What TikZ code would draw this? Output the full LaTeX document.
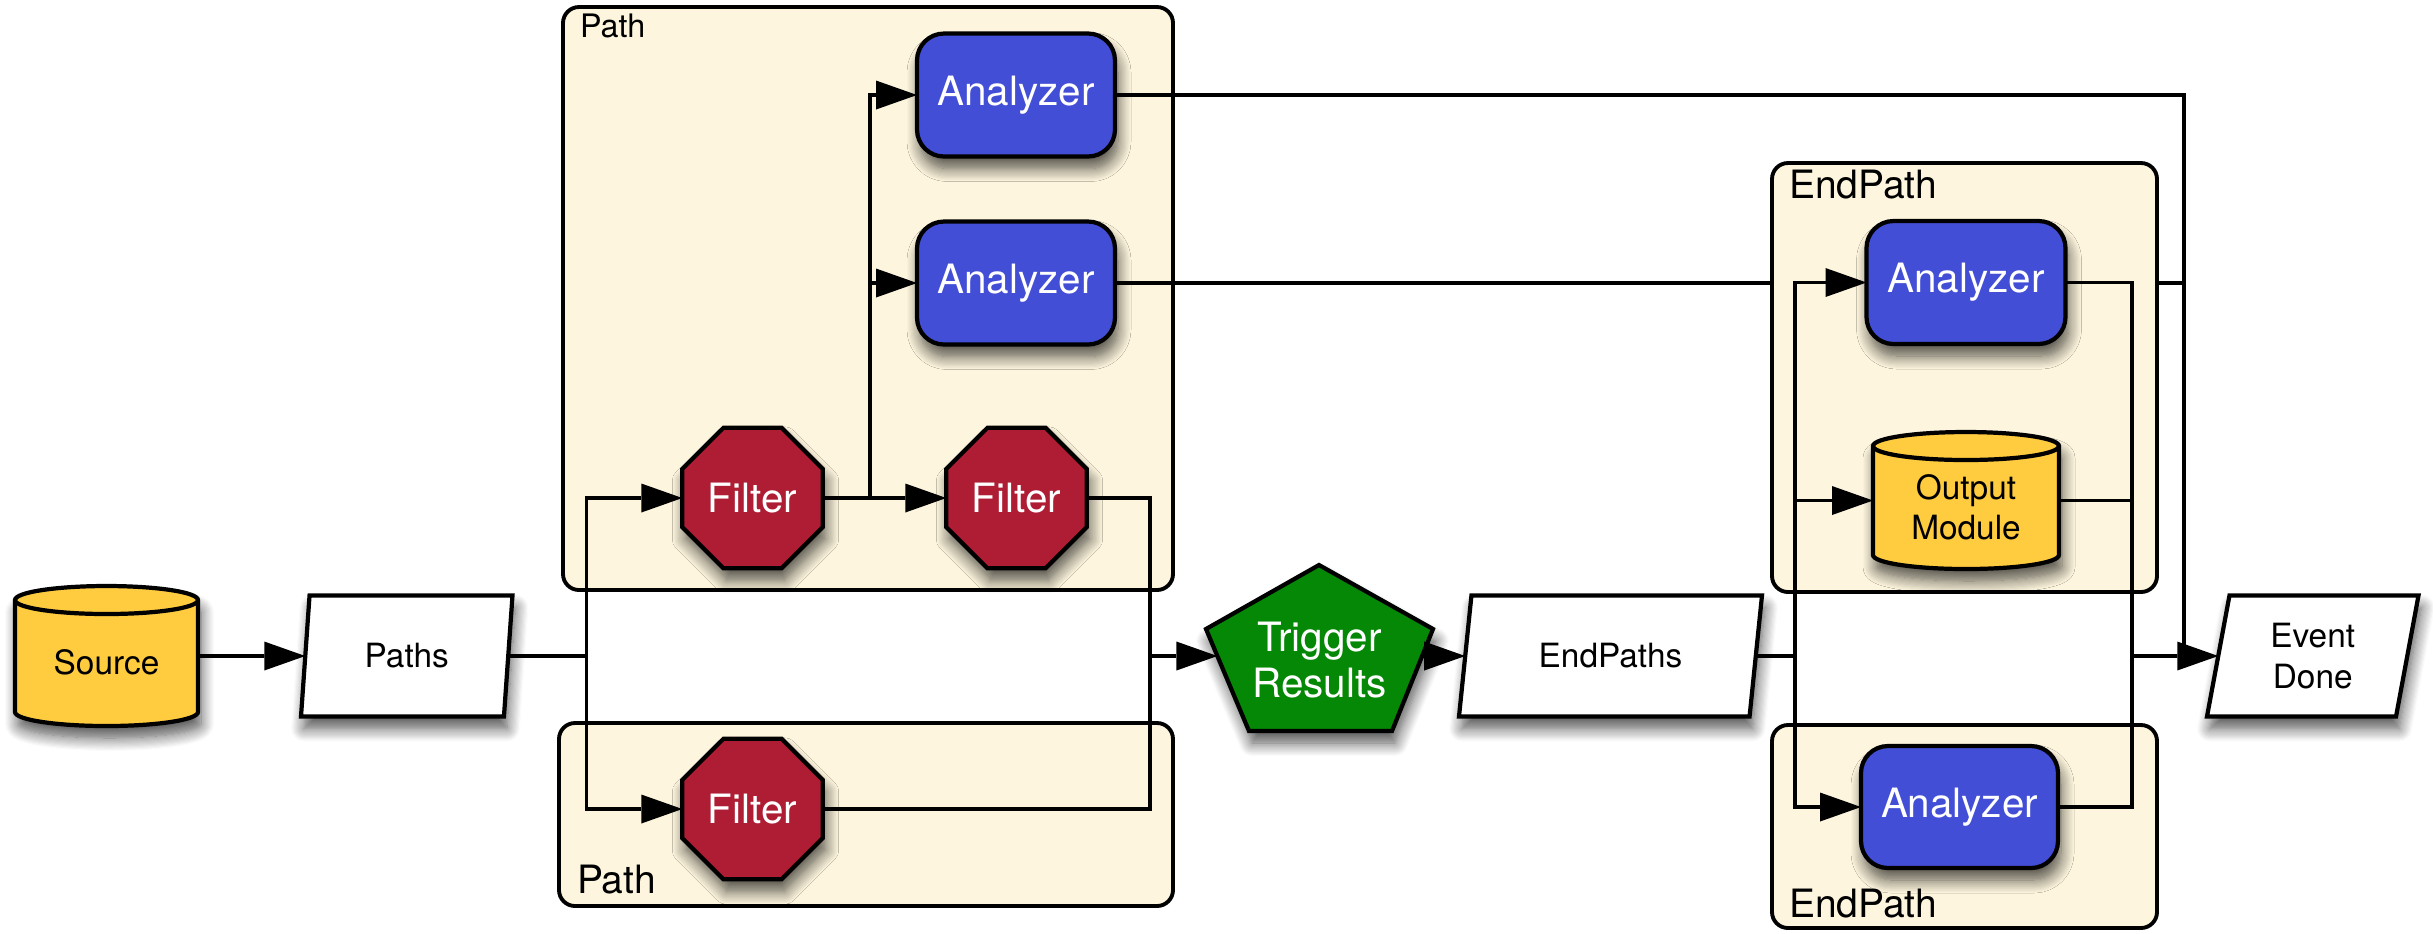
\documentclass[tikz,border=0pt]{standalone}
\usepackage{fontspec}
\setmainfont{TeX Gyre Heros}
\usetikzlibrary{shapes.geometric,arrows.meta,shadows.blur,calc}

\definecolor{boxcream}{RGB}{253,245,221}
\definecolor{anablue}{RGB}{67,78,214}
\definecolor{filtred}{RGB}{174,29,52}
\definecolor{trigreen}{RGB}{5,136,5}
\definecolor{dbyellow}{RGB}{255,204,64}

\newcommand\whitefont{\fontsize{11.5}{13.2}\selectfont}
\newcommand\blackfont{\fontsize{9.5}{11.5}\selectfont}

% yellow drum drawn around a borderless node: #1 node, #2 half height of the cap
\newcommand\cylinderof[2]{%
  \path[cylbody] let \p1=(#1.north west), \p2=(#1.south east) in
    (\x1,\y1-#2) -- (\x1,\y2+#2)
    arc[start angle=180, end angle=360, x radius={0.5*(\x2-\x1)}, y radius=#2]
    -- (\x2,\y1-#2)
    arc[start angle=0, end angle=180, x radius={0.5*(\x2-\x1)}, y radius=#2] -- cycle;
  \draw[cylrim] let \p1=(#1.north west), \p2=(#1.south east) in
    (\x1,\y1-#2)
    arc[start angle=180, end angle=360, x radius={0.5*(\x2-\x1)}, y radius=#2];
}

\begin{document}
\begin{tikzpicture}[x=0.1mm, y=-0.1mm,
  every node/.style={inner sep=0pt, outer sep=0pt},
  shadowed/.style={blur shadow={shadow xshift=0.3mm, shadow yshift=-1.2mm,
      shadow blur radius=1.3mm, shadow blur steps=12, shadow opacity=68}},
  groupframe/.style={draw, line width=1.1pt, fill=boxcream, rounded corners=1.6mm},
  boxlabel/.style={anchor=base west},
  analyzer/.style={rectangle, rounded corners=2.7mm, draw, line width=1.2pt,
      fill=anablue, text=white, font=\whitefont,
      minimum width=19.8mm, minimum height=12.3mm, shadowed},
  filter/.style={regular polygon, regular polygon sides=8, minimum size=15.2mm,
      draw, line width=1.2pt, fill=filtred, text=white, font=\whitefont, shadowed},
  slanted/.style={trapezium, trapezium stretches body, draw, line width=1.2pt,
      fill=white, font=\blackfont, align=center, minimum height=12.1mm, shadowed},
  cylbox/.style={rectangle},
  cyltext/.style={font=\blackfont, align=center},
  cylbody/.style={fill=dbyellow, draw, line width=1.2pt, shadowed},
  cylrim/.style={draw, line width=1.2pt},
  pentbody/.style={fill=trigreen, draw, line width=1.2pt, line join=miter, shadowed},
  conn/.style={draw=black, line width=1.1pt, opacity=1},
  arr/.style={conn, -{Triangle[length=4.1mm, width=2.9mm, fill=black, line width=0pt]}}]

\useasboundingbox (0,0) rectangle (2433,933);

% ---- Path frames
\draw[groupframe] (563,7) rectangle (1173,590);
\draw[groupframe] (559,723) rectangle (1173,906);
\node[boxlabel, font=\fontsize{9.2}{11}\selectfont] (lblA) at (580,37) {Path};
\node[boxlabel, font=\fontsize{11.1}{13}\selectfont] (lblB) at (577,893) {Path};

% ---- source side
\node[cylbox, minimum width=18.3mm, minimum height=14mm] (src) at (106.5,656) {};
\cylinderof{src}{1.4mm}
\node[cyltext] (srctext) at (106.5,662.5) {Source};
\node[slanted, trapezium left angle=71, trapezium right angle=109,
      minimum width=21.15mm] (paths) at (406.75,656) {Paths};

% ---- Path contents
\node[filter] (f1) at (752.5,498) {Filter};
\node[filter] (f2) at (1016.5,498) {Filter};
\node[filter] (f3) at (752.5,809) {Filter};
\node[analyzer] (a1) at (1016,95) {Analyzer};
\node[analyzer] (a2) at (1016,283) {Analyzer};

% ---- trigger results
\path[pentbody] (1319,565) -- (1433,629) -- (1392,731) -- (1249,731) -- (1206,629) -- cycle;
\node[font=\whitefont, text=white, align=center] (trig) at (1319.5,660) {Trigger\\Results};
\node[slanted, trapezium left angle=63.4, trapezium right angle=116.6,
      minimum width=30.3mm] (ep) at (1610.5,656) {EndPaths};

% ---- branch points
\coordinate (sp1) at (586.5,656);
\coordinate (j1) at (870,498);
\coordinate (sp2) at (1150,656);
\coordinate (trigW) at (1217.4,656);
\coordinate (trigE) at (1421.6,656);
\coordinate (sp3) at (1795,656);
\coordinate (sp4) at (2132,656);
\coordinate (j2) at (2184,656);

% analyzer outputs of the Path run behind the EndPath frame
\draw[conn] (a1) -| (j2);
\draw[conn] (a2) -| (j2);

% ---- EndPath frames
\draw[groupframe] (1772,163) rectangle (2157,592);
\draw[groupframe] (1772,725) rectangle (2157,928);
\node[boxlabel, font=\fontsize{11.1}{13}\selectfont] (lblC) at (1789,198) {EndPath};
\node[boxlabel, font=\fontsize{11.1}{13}\selectfont] (lblD) at (1789,917) {EndPath};

% ---- EndPath contents
\node[analyzer, minimum width=19.9mm] (a3) at (1966,282.5) {Analyzer};
\node[cylbox, minimum width=18.6mm, minimum height=13.7mm] (om) at (1966,500.5) {};
\cylinderof{om}{1.4mm}
\node[cyltext] (omtext) at (1966,507) {Output\\Module};
\node[analyzer, minimum width=19.7mm, minimum height=12.2mm] (a4) at (1959.5,807) {Analyzer};
\node[slanted, trapezium left angle=71, trapezium right angle=109,
      minimum width=21.15mm] (ed) at (2312.75,656) {Event\\Done};

% ---- connectors
\draw[arr] (src) -- (paths);
\draw[conn] (paths) -- (sp1);
\draw[arr] (sp1) |- (f1);
\draw[arr] (sp1) |- (f3);
\draw[arr] (f1) -- (f2);
\draw[arr] (j1) |- (a1);
\draw[arr] (j1) |- (a2);
\draw[conn] (f2) -| (sp2);
\draw[conn] (f3) -| (sp2);
\draw[arr] (sp2) -- (trigW);
\draw[arr] (trigE) -- (ep);
\draw[conn] (ep) -- (sp3);
\draw[arr] (sp3) |- (a3);
\draw[arr] (sp3) |- (om);
\draw[arr] (sp3) |- (a4);
\draw[conn] (a3) -| (sp4);
\draw[conn] (om) -| (sp4);
\draw[conn] (a4) -| (sp4);
\draw[arr] (sp4) -- (ed);

\end{tikzpicture}
\end{document}
